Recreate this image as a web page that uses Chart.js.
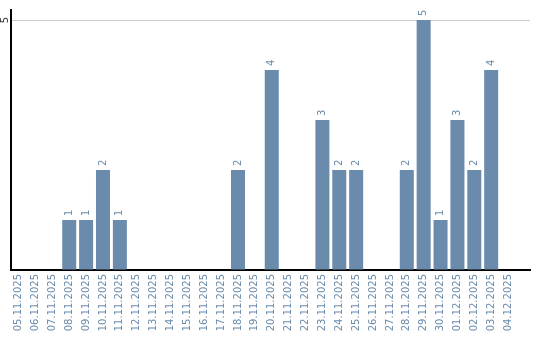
<!DOCTYPE html>
<html>
<head>
<meta charset="utf-8">
<script src="https://cdn.jsdelivr.net/npm/chart.js@4"></script>
<style>
  html, body { margin: 0; padding: 0; background: #fff; }
  #wrap { width: 540px; height: 340px; }
</style>
</head>
<body>
<div id="wrap"><canvas id="barChart" width="540" height="340"></canvas></div>
<script>
const days = [
  "05.11.2025", "06.11.2025", "07.11.2025", "08.11.2025", "09.11.2025",
  "10.11.2025", "11.11.2025", "12.11.2025", "13.11.2025", "14.11.2025",
  "15.11.2025", "16.11.2025", "17.11.2025", "18.11.2025", "19.11.2025",
  "20.11.2025", "21.11.2025", "22.11.2025", "23.11.2025", "24.11.2025",
  "25.11.2025", "26.11.2025", "27.11.2025", "28.11.2025", "29.11.2025",
  "30.11.2025", "01.12.2025", "02.12.2025", "03.12.2025", "04.12.2025",
];
const counts = [
  0, 0, 0, 1, 1, 2, 1, 0, 0, 0,
  0, 0, 0, 2, 0, 4, 0, 0, 3, 2,
  2, 0, 0, 2, 5, 1, 3, 2, 4, 0,
];
const yTicks = [0, 5];

const barColor = "#6a8bab";
const labelFont = "10px 'DejaVu Sans'";

// value labels above the bars, rotated like the axis labels
const valueLabels = {
  id: "valueLabels",
  afterDatasetsDraw(chart) {
    const ctx = chart.ctx;
    const meta = chart.getDatasetMeta(0);
    ctx.save();
    ctx.font = labelFont;
    ctx.fillStyle = barColor;
    meta.data.forEach((bar, i) => {
      const v = counts[i];
      if (!v) return;
      ctx.save();
      ctx.translate(bar.x, bar.y - 4);
      ctx.rotate(-Math.PI / 2);
      ctx.textAlign = "left";
      ctx.textBaseline = "middle";
      ctx.fillText(String(v), 0, 0);
      ctx.restore();
    });
    // rotated "5" on the y axis
    const y = chart.scales.y;
    ctx.fillStyle = "#333";
    yTicks.filter((t) => t > 0).forEach((t) => {
      ctx.save();
      ctx.translate(5, y.getPixelForValue(t));
      ctx.rotate(-Math.PI / 2);
      ctx.textAlign = "center";
      ctx.textBaseline = "middle";
      ctx.fillText(String(t), 0, 0);
      ctx.restore();
    });
    ctx.restore();
  },
};

new Chart(document.getElementById("barChart"), {
  type: "bar",
  data: {
    datasets: [
      {
        data: counts.map((c, i) => ({ x: i, y: c })),
        backgroundColor: barColor,
        borderWidth: 0,
        categoryPercentage: 1,
        barPercentage: 0.83,
      },
    ],
  },
  options: {
    responsive: false,
    animation: false,
    layout: { padding: { top: 10, right: 10, left: 0, bottom: 0 } },
    plugins: { legend: { display: false }, tooltip: { enabled: false } },
    scales: {
      x: {
        type: "linear",
        offset: false,
        min: -0.45,
        max: 30.3,
        grid: { display: false, drawTicks: false },
        border: { color: "#000", width: 2 },
        afterBuildTicks: (scale) => { scale.ticks = days.map((d, i) => ({ value: i })); },
        ticks: {
          autoSkip: false,
          minRotation: 90,
          maxRotation: 90,
          padding: 4,
          color: barColor,
          font: { family: "DejaVu Sans", size: 10 },
          callback: (v) => days[v],
        },
        afterFit: (scale) => { scale.height = 70; },
      },
      y: {
        min: 0,
        max: 5.2,
        border: { color: "#000", width: 2 },
        grid: {
          drawTicks: false,
          color: (c) => (c.tick && c.tick.value > 0 ? "#cccccc" : "rgba(0,0,0,0)"),
          lineWidth: 1,
        },
        ticks: { display: false },
        afterBuildTicks: (scale) => { scale.ticks = yTicks.map((v) => ({ value: v })); },
        afterFit: (scale) => { scale.width = 11; },
      },
    },
  },
  plugins: [valueLabels],
});
</script>
</body>
</html>
